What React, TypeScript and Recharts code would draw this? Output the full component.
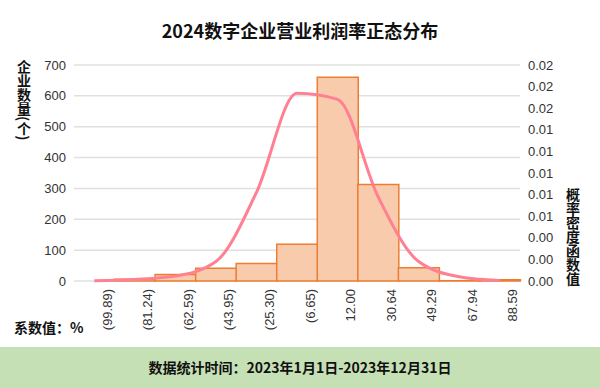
import React from 'react';
import { ComposedChart, Bar, Line, XAxis, YAxis, CartesianGrid } from 'recharts';

const categories = ['(99.89)', '(81.24)', '(62.59)', '(43.95)', '(25.30)', '(6.65)', '12.00', '30.64', '49.29', '67.94', '88.59'];
const counts = [0, 6, 21, 41, 57, 119, 660, 313, 43, 1, 4];
const density = [0.00003, 0.00015, 0.00045, 0.0018, 0.0082, 0.01738, 0.01682, 0.0078, 0.0018, 0.0004, 0.00005];
const countTicks = [0, 100, 200, 300, 400, 500, 600, 700];
const densityTicks = [0, 0.002, 0.004, 0.006, 0.008, 0.01, 0.012, 0.014, 0.016, 0.018, 0.02];

const data = categories.map((c, i) => ({ name: c, count: counts[i], density: density[i] }));

const latin = '"Liberation Sans", Arial, Helvetica, sans-serif';
const cjk = '"Noto Sans CJK SC", "Liberation Sans", sans-serif';

const XTick = (props: any) => {
  const { x, y, payload } = props;
  return (
    <text
      transform={`translate(${x + 13},${y}) rotate(-90)`}
      textAnchor="end"
      dominantBaseline="central"
      fontSize={13}
      fill="#333"
      fontFamily={latin}
    >
      {payload.value}
    </text>
  );
};

export default function App() {
  return (
    <div style={{ position: 'absolute', left: 0, top: 0, width: 600, height: 388, background: '#fff', overflow: 'hidden' }}>
      <ComposedChart
        width={600}
        height={388}
        data={data}
        margin={{ top: 65, right: 20, left: 20, bottom: 47 }}
        barCategoryGap={0}
        barGap={0}
      >
        <CartesianGrid yAxisId="left" vertical={false} stroke="#e0e0e0" strokeWidth={1.5} />
        <XAxis
          dataKey="name"
          interval={0}
          height={60}
          tickLine={false}
          axisLine={false}
          tick={<XTick />}
        />
        <YAxis
          yAxisId="left"
          orientation="left"
          width={54}
          domain={[0, 700]}
          ticks={countTicks}
          tickLine={false}
          axisLine={false}
          tick={{ fontSize: 13, fill: '#333', fontFamily: latin }}
        />
        <YAxis
          yAxisId="right"
          orientation="right"
          width={60}
          domain={[0, 0.02]}
          ticks={densityTicks}
          tickLine={false}
          axisLine={false}
          tickFormatter={(v: number) => v.toFixed(2)}
          tick={{ fontSize: 13, fill: '#333', fontFamily: latin, textAnchor: 'start' }}
        />
        <Bar
          yAxisId="left"
          dataKey="count"
          fill="#f8cbad"
          stroke="#ed7d31"
          strokeWidth={1.5}
          isAnimationActive={false}
        />
        <Line
          yAxisId="right"
          dataKey="density"
          type="monotone"
          stroke="#ff7f93"
          strokeWidth={3}
          dot={false}
          activeDot={false}
          isAnimationActive={false}
        />
      </ComposedChart>

      <div style={{ position: 'absolute', left: 0, top: 18, width: 600, textAlign: 'center', fontFamily: cjk, fontWeight: 'bold', fontSize: 18, lineHeight: '24px', color: '#111' }}>
        2024数字企业营业利润率正态分布
      </div>

      <div style={{ position: 'absolute', left: 17, top: 60, writingMode: 'vertical-rl', fontFamily: cjk, fontWeight: 'bold', fontSize: 14, lineHeight: '14px', color: '#111' }}>
        企业数量(个)
      </div>

      <div style={{ position: 'absolute', left: 566, top: 188, writingMode: 'vertical-rl', fontFamily: cjk, fontWeight: 'bold', fontSize: 14, lineHeight: '14px', color: '#111' }}>
        概率密度函数值
      </div>

      <div style={{ position: 'absolute', left: 14, top: 319, fontFamily: cjk, fontWeight: 'bold', fontSize: 14, lineHeight: '16px', color: '#111', whiteSpace: 'nowrap' }}>
        系数值：%
      </div>

      <div style={{ position: 'absolute', left: 0, top: 347, width: 600, height: 41, background: '#c5e0b4', textAlign: 'center', fontFamily: cjk, fontWeight: 'bold', fontSize: 14, lineHeight: '40px', color: '#111', whiteSpace: 'nowrap' }}>
        数据统计时间：2023年1月1日-2023年12月31日
      </div>
    </div>
  );
}
